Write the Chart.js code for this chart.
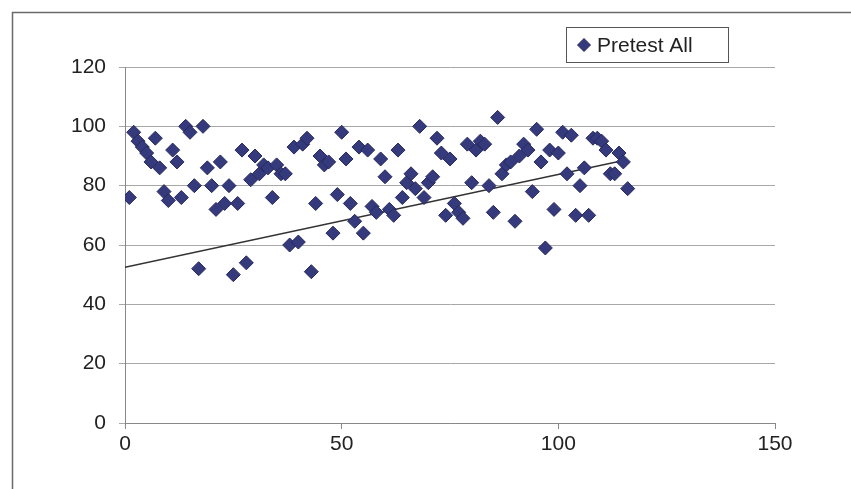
<!DOCTYPE html>
<html>
<head>
<meta charset="utf-8">
<script src="https://cdn.jsdelivr.net/npm/chart.js@4"></script>
<style>
html,body{margin:0;padding:0;background:#fff;}
#wrap{width:851px;height:489px;position:relative;}
</style>
</head>
<body>
<div id="wrap"><canvas id="c" width="851" height="489"></canvas></div>
<script>
const seriesName = "Pretest All";
const xValues = [1,2,3,4,5,6,7,8,9,10,11,12,13,14,15,16,17,18,19,20,21,22,23,24,25,26,27,28,29,30,31,32,33,34,35,36,37,38,39,40,41,42,43,44,45,46,47,48,49,50,51,52,53,54,55,56,57,58,59,60,61,62,63,64,65,66,67,68,69,70,71,72,73,74,75,76,77,78,79,80,81,82,83,84,85,86,87,88,89,90,91,92,93,94,95,96,97,98,99,100,101,102,103,104,105,106,107,108,109,110,111,112,113,114,115,116];
const yValues = [76,98,95,93,91,88,96,86,78,75,92,88,76,100,98,80,52,100,86,80,72,88,74,80,50,74,92,54,82,90,84,87,86,76,87,84,84,60,93,61,94,96,51,74,90,87,88,64,77,98,89,74,68,93,64,92,73,71,89,83,72,70,92,76,81,84,79,100,76,81,83,96,91,70,89,74,71,69,94,81,92,95,94,80,71,103,84,87,88,68,90,94,92,78,99,88,59,92,72,91,98,84,97,70,80,86,70,96,96,95,92,84,84,91,88,79];
const trendX = [0, 115];
const trendY = [52.5, 88.5];
const xTicks = [0, 50, 100, 150];
const yTicks = [0, 20, 40, 60, 80, 100, 120];

const points = xValues.map((x, i) => ({x: x, y: yValues[i]}));
const trend = trendX.map((x, i) => ({x: x, y: trendY[i]}));

const markerFill = '#353a7c';
const markerBorder = '#262a5e';
const FONT = '"Liberation Sans", Arial, sans-serif';

const framePlugin = {
  id: 'frame',
  beforeDraw(chart) {
    const ctx = chart.ctx;
    ctx.save();
    ctx.fillStyle = '#ffffff';
    ctx.fillRect(0, 0, chart.width, chart.height);
    ctx.strokeStyle = '#6a6a6a';
    ctx.lineWidth = 1.5;
    ctx.beginPath();
    ctx.moveTo(12.5, chart.height + 2);
    ctx.lineTo(12.5, 12.5);
    ctx.lineTo(chart.width + 2, 12.5);
    ctx.stroke();
    ctx.restore();
  },
  afterDraw(chart) {
    const ctx = chart.ctx;
    ctx.save();
    const bx = 566.5, by = 27.5, bw = 162, bh = 35;
    ctx.strokeStyle = '#555';
    ctx.lineWidth = 1;
    ctx.strokeRect(bx, by, bw, bh);
    const cx = 584, cy = 45, r = 6.5;
    ctx.beginPath();
    ctx.moveTo(cx, cy - r);
    ctx.lineTo(cx + r, cy);
    ctx.lineTo(cx, cy + r);
    ctx.lineTo(cx - r, cy);
    ctx.closePath();
    ctx.fillStyle = markerFill;
    ctx.fill();
    ctx.strokeStyle = markerBorder;
    ctx.stroke();
    ctx.fillStyle = '#222';
    ctx.font = '21px ' + FONT;
    ctx.textBaseline = 'middle';
    ctx.textAlign = 'left';
    ctx.fillText(chart.data.datasets[0].label, 597, 46);
    ctx.restore();
  }
};

new Chart(document.getElementById('c'), {
  type: 'scatter',
  data: {
    datasets: [
      {
        label: seriesName,
        data: points,
        pointStyle: 'rectRot',
        pointRadius: 7,
        pointHoverRadius: 7,
        backgroundColor: markerFill,
        borderColor: markerBorder,
        borderWidth: 1,
        order: 1
      },
      {
        label: 'Linear (Pretest All)',
        type: 'line',
        data: trend,
        borderColor: '#333333',
        borderWidth: 1.6,
        pointRadius: 0,
        fill: false,
        order: 2
      }
    ]
  },
  options: {
    responsive: false,
    animation: false,
    devicePixelRatio: 1,
    layout: { padding: { left: 0, top: 67, right: 76, bottom: 26 } },
    plugins: {
      legend: { display: false },
      tooltip: { enabled: false },
      title: { display: false }
    },
    scales: {
      x: {
        type: 'linear',
        min: 0,
        max: 150,
        afterBuildTicks(scale) { scale.ticks = xTicks.map(v => ({value: v})); },
        afterFit(scale) { scale.height = 40; },
        grid: {
          display: true,
          drawOnChartArea: false,
          drawTicks: true,
          tickLength: 6,
          color: '#888'
        },
        border: { display: true, color: '#888', width: 1 },
        ticks: {
          color: '#222',
          font: { family: FONT, size: 21 },
          padding: 3,
          maxRotation: 0
        }
      },
      y: {
        type: 'linear',
        min: 0,
        max: 120,
        afterBuildTicks(scale) { scale.ticks = yTicks.map(v => ({value: v})); },
        afterFit(scale) { scale.width = 125; },
        grid: {
          display: true,
          drawTicks: true,
          tickLength: 6,
          color: '#a8a8a8',
          lineWidth: 1
        },
        border: { display: true, color: '#888', width: 1 },
        ticks: {
          color: '#222',
          font: { family: FONT, size: 21 },
          padding: 13
        }
      }
    }
  },
  plugins: [framePlugin]
});
</script>
</body>
</html>
